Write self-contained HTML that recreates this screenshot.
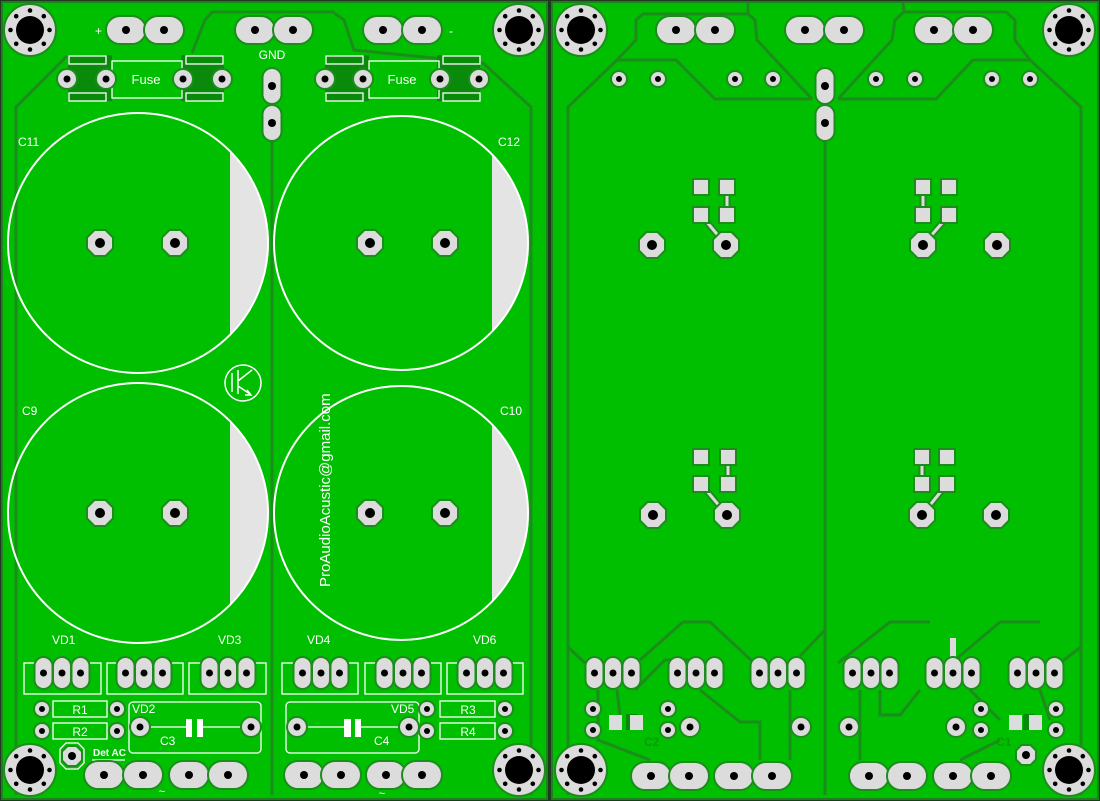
<!DOCTYPE html>
<html><head><meta charset="utf-8"><style>
html,body{margin:0;padding:0;background:#1c3a1c;}
svg{display:block}
text{font-family:"Liberation Sans",sans-serif;fill:#fff}
</style></head><body>
<svg width="1100" height="801" viewBox="0 0 1100 801" xmlns="http://www.w3.org/2000/svg">
<defs>
<g id="mh"><circle r="26" fill="#dcdcdc" stroke="#1c8c1c" stroke-width="2"/><circle r="14" fill="#000"/>
<circle cx="19.5" cy="0" r="2.3" fill="#000"/><circle cx="-19.5" cy="0" r="2.3" fill="#000"/><circle cx="0" cy="19.5" r="2.3" fill="#000"/><circle cx="0" cy="-19.5" r="2.3" fill="#000"/>
<circle cx="13.8" cy="13.8" r="2.3" fill="#000"/><circle cx="-13.8" cy="13.8" r="2.3" fill="#000"/><circle cx="13.8" cy="-13.8" r="2.3" fill="#000"/><circle cx="-13.8" cy="-13.8" r="2.3" fill="#000"/></g>
<g id="oh"><rect x="-20" y="-14" width="40" height="28" rx="14" fill="#dcdcdc" stroke="#1c8c1c" stroke-width="2"/><circle r="4" fill="#000"/></g>
<g id="ov"><rect x="-9.5" y="-18" width="19" height="36" rx="9.5" fill="#dcdcdc" stroke="#1c8c1c" stroke-width="2"/><circle r="4" fill="#000"/></g>
<g id="tv"><rect x="-9" y="-16" width="18" height="32" rx="9" fill="#dcdcdc" stroke="#1c8c1c" stroke-width="2"/><circle r="3.5" fill="#000"/></g>
<g id="oc"><polygon points="-5.5,-13 5.5,-13 13,-5.5 13,5.5 5.5,13 -5.5,13 -13,5.5 -13,-5.5" fill="#dcdcdc" stroke="#1c8c1c" stroke-width="2"/><circle r="5" fill="#000"/></g>
<g id="os"><polygon points="-4.5,-10 4.5,-10 10,-4.5 10,4.5 4.5,10 -4.5,10 -10,4.5 -10,-4.5" fill="#dcdcdc" stroke="#1c8c1c" stroke-width="2"/><circle r="4" fill="#000"/></g>
<g id="rp"><circle r="10" fill="#dcdcdc" stroke="#1c8c1c" stroke-width="2"/><circle r="3.5" fill="#000"/></g>
<g id="sp"><circle r="8" fill="#dcdcdc" stroke="#1c8c1c" stroke-width="2"/><circle r="3" fill="#000"/></g>
<g id="sq"><rect x="-8" y="-8" width="16" height="16" fill="#dcdcdc" stroke="#1c8c1c" stroke-width="2"/></g>
<g id="tri"><use href="#tv" x="-18.5"/><use href="#tv"/><use href="#tv" x="18.5"/></g>
</defs>

<rect x="0" y="0" width="1100" height="801" fill="#1c3a1c"/>
<rect x="2" y="2" width="545" height="797" fill="#00bf00" stroke="#1f7f1f" stroke-width="2"/>
<rect x="552" y="2" width="546" height="797" fill="#00bf00" stroke="#1f7f1f" stroke-width="2"/>

<g fill="none" stroke="#1c8c1c" stroke-width="3">
<path d="M16,795 L16,107 L67,56 M192,53 L205,20 L212,12 L333,12 L344,20 L354,50 L483,63 L531,107 L531,795"/>
<path d="M272,140 L272,795"/>
<path d="M568,795 L568,107 L617,60 L676,60 L715,99 L812,99 M617,60 L636,40 L636,20 L643,14 L748,14 L748,3 M748,14 L755,20 L757,40 L812,99"/>
<path d="M1081,795 L1081,107 L1030,60 L973,60 L936,99 L838,99 M1030,60 L1015,40 L1015,20 L1006,12 L904,12 L903,3 M904,12 L895,20 L892,40 L838,99"/>
<path d="M825,140 L825,795"/>
<path d="M568,647 L585,663 M683,622 L710,622 L765,673 M683,622 L640,660 M598,690 L598,740 L650,760 M617,690 L620,715 M635,690 L665,660 L690,660 M700,690 L740,722 L760,722 L760,760 M790,690 L790,760 M800,656 L825,630 M1081,647 L1060,663 M1000,622 L1040,622 M1000,622 L955,660 M930,622 L890,622 L838,663 M970,690 L1000,720 M860,690 L860,760 M880,690 L880,715 L900,715 L920,690 M1040,690 L1050,720 M1000,740 L960,760"/>
</g>

<use href="#mh" x="30" y="30"/><use href="#mh" x="519" y="30"/><use href="#mh" x="30" y="770"/><use href="#mh" x="519" y="770"/>
<use href="#oh" x="126" y="30"/><use href="#oh" x="164" y="30"/>
<use href="#oh" x="255" y="30"/><use href="#oh" x="293" y="30"/>
<use href="#oh" x="383" y="30"/><use href="#oh" x="422" y="30"/>
<text x="95" y="35" font-size="12">+</text><text x="449" y="35" font-size="12">-</text>
<text x="272" y="59" font-size="12" text-anchor="middle">GND</text>
<use href="#ov" x="272" y="86"/><use href="#ov" x="272" y="123"/>

<g>
<rect x="68" y="55" width="44" height="46" fill="#0a8a0a"/><rect x="181" y="55" width="43" height="46" fill="#0a8a0a"/>
<rect x="325" y="55" width="44" height="46" fill="#0a8a0a"/><rect x="437" y="55" width="43" height="46" fill="#0a8a0a"/>
<g fill="none" stroke="#fff" stroke-width="1.3">
<rect x="112" y="61" width="70" height="37"/><rect x="69" y="56" width="37" height="8"/><rect x="69" y="93" width="37" height="8"/><rect x="186" y="56" width="37" height="8"/><rect x="186" y="93" width="37" height="8"/>
<rect x="369" y="61" width="70" height="37"/><rect x="326" y="56" width="37" height="8"/><rect x="326" y="93" width="37" height="8"/><rect x="443" y="56" width="37" height="8"/><rect x="443" y="93" width="37" height="8"/>
</g>
<use href="#rp" x="67" y="79"/><use href="#rp" x="106" y="79"/><use href="#rp" x="183" y="79"/><use href="#rp" x="222" y="79"/>
<use href="#rp" x="325" y="79"/><use href="#rp" x="363" y="79"/><use href="#rp" x="440" y="79"/><use href="#rp" x="479" y="79"/>
<text x="146" y="84" font-size="13" text-anchor="middle">Fuse</text><text x="402" y="84" font-size="13" text-anchor="middle">Fuse</text>
</g>

<g fill="#e4e4e4">
<path d="M230,151.2 A130,130 0 0 1 230,334.8 Z"/>
<path d="M230,421.2 A130,130 0 0 1 230,604.8 Z"/>
<path d="M492,154.4 A127,127 0 0 1 492,331.6 Z"/>
<path d="M492,424.4 A127,127 0 0 1 492,601.6 Z"/>
</g>
<g fill="none" stroke="#fff" stroke-width="2">
<circle cx="138" cy="243" r="130"/><circle cx="138" cy="513" r="130"/>
<circle cx="401" cy="243" r="127"/><circle cx="401" cy="513" r="127"/>
</g>
<use href="#oc" x="100" y="243"/><use href="#oc" x="175" y="243"/><use href="#oc" x="100" y="513"/><use href="#oc" x="175" y="513"/>
<use href="#oc" x="370" y="243"/><use href="#oc" x="445" y="243"/><use href="#oc" x="370" y="513"/><use href="#oc" x="445" y="513"/>
<text x="18" y="146" font-size="12">C11</text><text x="498" y="146" font-size="12">C12</text>
<text x="22" y="415" font-size="12">C9</text><text x="500" y="415" font-size="12">C10</text>

<g fill="none" stroke="#fff" stroke-width="1.5">
<circle cx="243" cy="383" r="18"/>
<path d="M232,373 L232,392 M238,370 L238,394 M238,381 L252,370 M238,386 L250,394 M247,390 L251,395 L245,395"/>
</g>
<text transform="translate(330,587) rotate(-90)" font-size="15">ProAudioAcustic@gmail.com</text>

<text x="52" y="644" font-size="12">VD1</text><text x="218" y="644" font-size="12">VD3</text>
<text x="307" y="644" font-size="12">VD4</text><text x="473" y="644" font-size="12">VD6</text>
<g fill="none" stroke="#fff" stroke-width="1.3">
<rect x="24" y="663" width="77" height="31"/><rect x="107" y="663" width="76" height="31"/><rect x="189" y="663" width="77" height="31"/>
<rect x="282" y="663" width="76" height="31"/><rect x="365" y="663" width="76" height="31"/><rect x="447" y="663" width="76" height="31"/>
<rect x="53" y="701" width="54" height="16"/><rect x="53" y="723" width="54" height="16"/>
<rect x="440" y="701" width="55" height="16"/><rect x="440" y="723" width="55" height="16"/>
<rect x="129" y="702" width="132" height="51" rx="4"/><rect x="286" y="702" width="133" height="51" rx="4"/>
<path d="M140,727 L186,727 M203,727 L251,727 M297,727 L344,727 M361,727 L409,727 M92,760 L125,760"/>
</g>
<g fill="#fff"><rect x="186" y="719" width="6" height="18"/><rect x="197" y="719" width="6" height="18"/><rect x="344" y="719" width="7" height="18"/><rect x="355" y="719" width="6" height="18"/></g>
<use href="#tri" x="62" y="673"/><use href="#tri" x="144" y="673"/><use href="#tri" x="228" y="673"/>
<use href="#tri" x="321" y="673"/><use href="#tri" x="403" y="673"/><use href="#tri" x="485" y="673"/>
<use href="#sp" x="42" y="709"/><use href="#sp" x="117" y="709"/><use href="#sp" x="42" y="731"/><use href="#sp" x="117" y="731"/>
<use href="#sp" x="427" y="709"/><use href="#sp" x="505" y="709"/><use href="#sp" x="427" y="731"/><use href="#sp" x="505" y="731"/>
<use href="#rp" x="140" y="727"/><use href="#rp" x="251" y="727"/><use href="#rp" x="297" y="727"/><use href="#rp" x="409" y="727"/>
<text x="80" y="714" font-size="12" text-anchor="middle">R1</text><text x="80" y="736" font-size="12" text-anchor="middle">R2</text>
<text x="468" y="714" font-size="12" text-anchor="middle">R3</text><text x="468" y="736" font-size="12" text-anchor="middle">R4</text>
<text x="132" y="713" font-size="12">VD2</text><text x="391" y="713" font-size="12">VD5</text>
<text x="160" y="745" font-size="12">C3</text><text x="374" y="745" font-size="12">C4</text>
<g><polygon points="66,743 78,743 84,749 84,763 78,769 66,769 60,763 60,749" fill="#00bf00" stroke="#fff" stroke-width="1.3"/><use href="#os" x="72" y="756"/></g>
<text x="93" y="756" font-size="10" font-weight="bold">Det AC</text>
<use href="#oh" x="104" y="775"/><use href="#oh" x="143" y="775"/><use href="#oh" x="189" y="775"/><use href="#oh" x="228" y="775"/>
<use href="#oh" x="304" y="775"/><use href="#oh" x="341" y="775"/><use href="#oh" x="386" y="775"/><use href="#oh" x="422" y="775"/>
<text x="162" y="795" font-size="11" text-anchor="middle">~</text><text x="382" y="797" font-size="11" text-anchor="middle">~</text>

<use href="#mh" x="581" y="30"/><use href="#mh" x="1069" y="30"/><use href="#mh" x="581" y="770"/><use href="#mh" x="1069" y="770"/>
<use href="#oh" x="676" y="30"/><use href="#oh" x="715" y="30"/><use href="#oh" x="805" y="30"/><use href="#oh" x="844" y="30"/><use href="#oh" x="934" y="30"/><use href="#oh" x="973" y="30"/>
<use href="#sp" x="619" y="79"/><use href="#sp" x="658" y="79"/><use href="#sp" x="735" y="79"/><use href="#sp" x="773" y="79"/>
<use href="#sp" x="876" y="79"/><use href="#sp" x="915" y="79"/><use href="#sp" x="992" y="79"/><use href="#sp" x="1030" y="79"/>
<use href="#ov" x="825" y="86"/><use href="#ov" x="825" y="123"/>

<g stroke="#1c8c1c" stroke-width="7" fill="none"><path d="M701,215 L726,245 M727,187 L727,215 M949,215 L923,245 M923,187 L923,215 M701,484 L727,515 M728,457 L728,484 M922,484 L922,457 M947,484 L922,515"/></g>
<g stroke="#dcdcdc" stroke-width="3" fill="none"><path d="M701,215 L726,245 M727,187 L727,215 M949,215 L923,245 M923,187 L923,215 M701,484 L727,515 M728,457 L728,484 M922,484 L922,457 M947,484 L922,515"/></g>
<use href="#sq" x="701" y="187"/><use href="#sq" x="727" y="187"/><use href="#sq" x="701" y="215"/><use href="#sq" x="727" y="215"/>
<use href="#sq" x="923" y="187"/><use href="#sq" x="949" y="187"/><use href="#sq" x="923" y="215"/><use href="#sq" x="949" y="215"/>
<use href="#sq" x="701" y="457"/><use href="#sq" x="728" y="457"/><use href="#sq" x="701" y="484"/><use href="#sq" x="728" y="484"/>
<use href="#sq" x="922" y="457"/><use href="#sq" x="947" y="457"/><use href="#sq" x="922" y="484"/><use href="#sq" x="947" y="484"/>
<use href="#oc" x="652" y="245"/><use href="#oc" x="726" y="245"/><use href="#oc" x="923" y="245"/><use href="#oc" x="997" y="245"/>
<use href="#oc" x="653" y="515"/><use href="#oc" x="727" y="515"/><use href="#oc" x="922" y="515"/><use href="#oc" x="996" y="515"/>

<rect x="950" y="638" width="6" height="22" fill="#dcdcdc"/>
<use href="#tri" x="613" y="673"/><use href="#tri" x="696" y="673"/><use href="#tri" x="778" y="673"/>
<use href="#tri" x="871" y="673"/><use href="#tri" x="953" y="673"/><use href="#tri" x="1036" y="673"/>
<use href="#sp" x="593" y="709"/><use href="#sp" x="593" y="730"/><use href="#sp" x="668" y="709"/><use href="#sp" x="668" y="730"/>
<use href="#sp" x="981" y="709"/><use href="#sp" x="981" y="730"/><use href="#sp" x="1056" y="709"/><use href="#sp" x="1056" y="730"/>
<use href="#rp" x="690" y="727"/><use href="#rp" x="801" y="727"/><use href="#rp" x="849" y="727"/><use href="#rp" x="956" y="727"/>
<rect x="626" y="714" width="12" height="16" fill="#0a8a0a"/><rect x="1023" y="714" width="12" height="16" fill="#0a8a0a"/>
<rect x="609" y="715" width="13" height="15" fill="#dcdcdc"/><rect x="630" y="715" width="13" height="15" fill="#dcdcdc"/>
<rect x="1009" y="715" width="13" height="15" fill="#dcdcdc"/><rect x="1029" y="715" width="13" height="15" fill="#dcdcdc"/>
<text x="644" y="746" font-size="12" style="fill:#0a9a0a;font-weight:bold">C2</text>
<text x="996" y="746" font-size="12" style="fill:#0a9a0a;font-weight:bold">C1</text>
<use href="#os" x="1026" y="755"/>
<use href="#oh" x="651" y="776"/><use href="#oh" x="689" y="776"/><use href="#oh" x="734" y="776"/><use href="#oh" x="772" y="776"/>
<use href="#oh" x="869" y="776"/><use href="#oh" x="907" y="776"/><use href="#oh" x="953" y="776"/><use href="#oh" x="991" y="776"/>
</svg>
</body></html>
